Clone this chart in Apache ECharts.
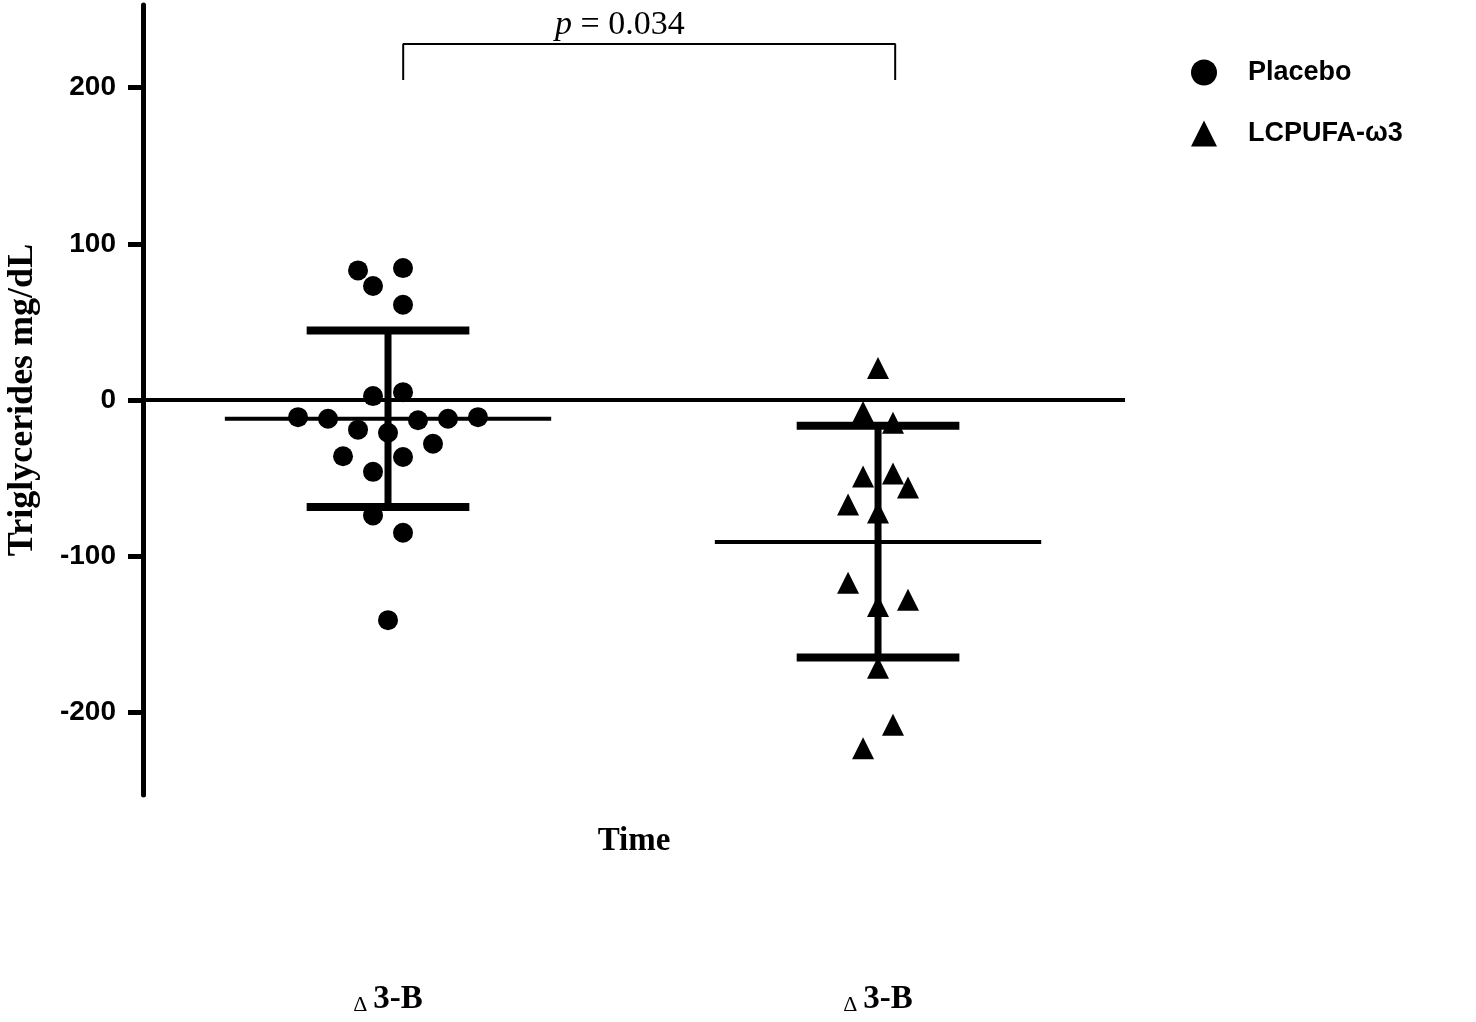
<!DOCTYPE html>
<html>
<head>
<meta charset="utf-8">
<script src="https://cdn.jsdelivr.net/npm/echarts@6/dist/echarts.min.js"></script>
<style>
  html, body { margin: 0; padding: 0; background: #fff; }
  #chart { width: 1476px; height: 1022px; }
</style>
</head>
<body>
<div id="chart"></div>
<script>
// values
const groupNames = ['Placebo', 'LCPUFA-ω3'];
const xTickLabels = ['Δ3-B', 'Δ3-B'];
const yTicks = [-200, -100, 0, 100, 200];

// jitter is in "point steps" (one step = one marker width sideways)
const placeboJitter = [-1, 0.5, -0.5, 0.5, -0.5, 0.5, -3, -2, -1, 0, 1, 2, 3, -1.5, 0.5, 1.5, -0.5, -0.5, 0.5, 0];
const placeboValues = [83, 84.5, 73, 61, 2.5, 5, -11, -12, -19, -21, -13, -12, -11, -36, -36.5, -28, -46, -74, -85, -141];

const lcpufaJitter = [0, -0.5, 0.5, -0.5, 0.5, 1, -1, 0, -1, 0, 1, 0, 0.5, -0.5];
const lcpufaValues = [20.5, -7.7, -14.5, -49, -47, -56, -67, -72, -117, -132, -128, -171.5, -208, -223];

const groupMean = [-12, -91];
const groupUpper = [44.5, -16.5];
const groupLower = [-68.5, -165];

const bracketX = [0.531, 1.535];
const bracketY = [205, 228];
const pValueText = '0.034';

const JITTER_STEP = 0.0612;
const MEAN_HALF = 0.333;
const CAP_HALF = 0.166;

const serif = "'Liberation Serif', 'DejaVu Serif', serif";
const sans = "'Liberation Sans', Arial, sans-serif";

function toPoints(jitter, values, centre) {
    return values.map((v, i) => [centre + jitter[i] * JITTER_STEP, v]);
}

const summaryData = groupMean.map((m, i) => [i, m, groupUpper[i], groupLower[i]]);

const chart = echarts.init(document.getElementById('chart'), null, {renderer: 'canvas'});

chart.setOption({
    backgroundColor: '#fff',
    animation: false,
    grid: {left: 143, right: 351, top: 5, bottom: 227, containLabel: false, outerBoundsMode: 'none'},
    legend: {
        orient: 'vertical',
        left: 1186,
        top: 54,
        itemWidth: 26,
        itemHeight: 26,
        itemGap: 34,
        data: [
            {name: groupNames[0], icon: 'circle'},
            {name: groupNames[1], icon: 'triangle'},
        ],
        itemStyle: {opacity: 1},
        textStyle: {
            color: '#000',
            fontFamily: sans,
            fontWeight: 'bold',
            fontSize: 27,
            padding: [0, 0, 0, 26],
        },
    },
    xAxis: {
        type: 'value',
        min: 0,
        max: 2.004,
        name: 'Time',
        nameLocation: 'middle',
        nameGap: 30,
        nameMoveOverlap: false,
        nameTextStyle: {color: '#000', fontFamily: serif, fontWeight: 'bold', fontSize: 33, verticalAlign: 'top'},
        axisLine: {show: false},
        axisTick: {show: false},
        splitLine: {show: false},
        axisLabel: {
            customValues: [0.5, 1.5],
            margin: 188,
            formatter: (val) => {
                const label = xTickLabels[Math.round(val - 0.5)];
                return '{d|' + label.charAt(0) + '}{b|' + label.slice(1) + '}';
            },
            rich: {
                d: {fontFamily: serif, fontSize: 22, color: '#000', verticalAlign: 'bottom', padding: [8, 6, 0, 0]},
                b: {fontFamily: serif, fontSize: 33, fontWeight: 'bold', color: '#000'},
            },
        },
    },
    yAxis: {
        type: 'value',
        min: -253,
        max: 253,
        name: 'Triglycerides mg/dL',
        nameLocation: 'middle',
        nameGap: 102,
        nameMoveOverlap: false,
        nameTextStyle: {color: '#000', fontFamily: serif, fontWeight: 'bold', fontSize: 36},
        axisLine: {show: true, lineStyle: {color: '#000', width: 5}},
        axisTick: {show: true, customValues: yTicks, length: 15, lineStyle: {color: '#000', width: 5}},
        splitLine: {show: false},
        axisLabel: {
            customValues: yTicks,
            margin: 27,
            color: '#000',
            fontFamily: sans,
            fontWeight: 'bold',
            fontSize: 28,
        },
    },
    series: [
        {
            // zero reference line
            type: 'line',
            data: [],
            silent: true,
            markLine: {
                symbol: 'none',
                silent: true,
                label: {show: false},
                lineStyle: {color: '#000', width: 4, type: 'solid'},
                data: [{yAxis: 0}],
            },
            z: 1,
        },
        {
            // mean and SD bars
            type: 'custom',
            data: summaryData,
            z: 2,
            renderItem: (params, api) => {
                const c = api.value(0) + 0.5;
                const mean = api.value(1);
                const up = api.value(2);
                const lo = api.value(3);
                const seg = (x1, y1, x2, y2, w) => {
                    const a = api.coord([x1, y1]);
                    const b = api.coord([x2, y2]);
                    return {
                        type: 'line',
                        shape: {x1: a[0], y1: a[1], x2: b[0], y2: b[1]},
                        style: {stroke: '#000', lineWidth: w},
                    };
                };
                return {
                    type: 'group',
                    children: [
                        seg(c - MEAN_HALF, mean, c + MEAN_HALF, mean, 4),
                        seg(c, lo, c, up, 7),
                        seg(c - CAP_HALF, up, c + CAP_HALF, up, 8),
                        seg(c - CAP_HALF, lo, c + CAP_HALF, lo, 8),
                    ],
                };
            },
        },
        {
            name: groupNames[0],
            type: 'scatter',
            symbol: 'circle',
            symbolSize: 20,
            itemStyle: {color: '#000', opacity: 1},
            data: toPoints(placeboJitter, placeboValues, 0.5),
            z: 5,
        },
        {
            name: groupNames[1],
            type: 'scatter',
            symbol: 'triangle',
            symbolSize: 22,
            itemStyle: {color: '#000', opacity: 1},
            data: toPoints(lcpufaJitter, lcpufaValues, 1.5),
            z: 5,
        },
        {
            // significance bracket
            type: 'line',
            symbol: 'none',
            silent: true,
            lineStyle: {color: '#000', width: 2},
            data: [
                [bracketX[0], bracketY[0]],
                [bracketX[0], bracketY[1]],
                [bracketX[1], bracketY[1]],
                [bracketX[1], bracketY[0]],
            ],
            z: 3,
        },
        {
            type: 'scatter',
            symbolSize: 0,
            silent: true,
            itemStyle: {opacity: 1},
            data: [[(bracketX[0] + bracketX[1]) / 2 - 0.06, 240]],
            label: {
                show: true,
                position: 'inside',
                opacity: 1,
                formatter: '{i|p}{t| = ' + pValueText + '}',
                rich: {
                    i: {fontFamily: serif, fontStyle: 'italic', fontSize: 34, color: '#000'},
                    t: {fontFamily: serif, fontSize: 34, color: '#000'},
                },
            },
            z: 4,
        },
    ],
});
</script>
</body>
</html>
